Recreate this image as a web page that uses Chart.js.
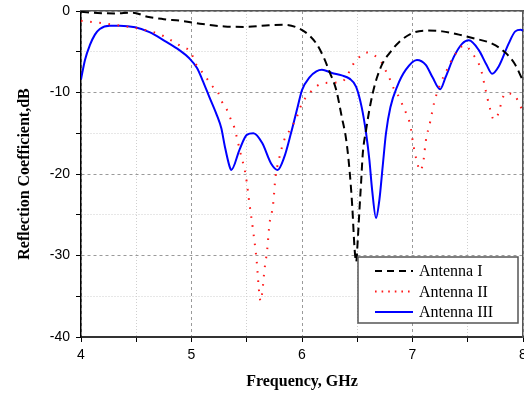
<!DOCTYPE html>
<html>
<head>
<meta charset="utf-8">
<script src="https://cdn.jsdelivr.net/npm/chart.js@4.4.0/dist/chart.umd.min.js"></script>
<style>
  html, body { margin: 0; padding: 0; background: #fff; }
  #wrap { width: 524px; height: 395px; }
</style>
</head>
<body>
<div id="wrap"><canvas id="s11Chart" width="524" height="395"></canvas></div>
<script>
// Reflection coefficient (dB) vs frequency (GHz)
const freqI = [4.0, 4.15, 4.3, 4.47, 4.6, 4.75, 4.9, 5.1, 5.3, 5.5, 5.7, 5.85, 5.95, 6.05, 6.13, 6.2, 6.25, 6.31, 6.36, 6.4, 6.43, 6.455, 6.475, 6.49, 6.505, 6.52, 6.535, 6.55, 6.58, 6.61, 6.64, 6.68, 6.73, 6.79, 6.88, 7.0, 7.13, 7.27, 7.42, 7.57, 7.72, 7.84, 7.93, 8.0];
const s11I  = [-0.1, -0.25, -0.3, -0.2, -0.7, -1.0, -1.2, -1.6, -1.9, -1.95, -1.75, -1.7, -2.0, -2.8, -4.0, -5.8, -7.5, -9.7, -13, -15.8, -19.5, -24, -29, -30.8, -28, -24.4, -21, -17.5, -14.6, -12.1, -10.1, -8.1, -6.4, -5.2, -3.8, -2.7, -2.4, -2.5, -2.9, -3.4, -4.0, -5.1, -6.6, -8.6];

const freqII = [4.0, 4.1, 4.2, 4.35, 4.5, 4.6, 4.7, 4.83, 4.9, 5.0, 5.03, 5.08, 5.13, 5.18, 5.24, 5.27, 5.32, 5.35, 5.39, 5.41, 5.45, 5.49, 5.525, 5.56, 5.59, 5.61, 5.625, 5.643, 5.66, 5.685, 5.706, 5.738, 5.76, 5.79, 5.84, 5.9, 5.95, 5.97, 6.0, 6.05, 6.1, 6.18, 6.27, 6.36, 6.41, 6.455, 6.5, 6.59, 6.65, 6.72, 6.76, 6.8, 6.83, 6.88, 6.915, 6.95, 6.98, 7.005, 7.04, 7.07, 7.1, 7.12, 7.16, 7.195, 7.25, 7.32, 7.36, 7.47, 7.54, 7.59, 7.62, 7.66, 7.7, 7.735, 7.755, 7.79, 7.81, 7.845, 7.91, 8.0];
const s11II  = [-1.2, -1.35, -1.5, -1.8, -2.1, -2.4, -2.8, -3.7, -4.3, -5.2, -6.3, -7.2, -8.1, -9.1, -10.0, -11, -12.1, -13.1, -14.4, -15.5, -17.8, -20.1, -23.7, -27.2, -30.7, -34.2, -35.6, -34.2, -31.8, -29.3, -26.1, -23.8, -20.4, -18.3, -15.8, -14.4, -13.1, -12.4, -11.3, -10.4, -9.6, -8.9, -8.8, -8.7, -7.9, -6.7, -5.9, -5.1, -5.4, -6.3, -7.4, -8.5, -9.5, -10.6, -11.7, -12.8, -14, -16.2, -18.5, -19.6, -18.3, -16, -13.6, -11.3, -9, -7, -5.9, -4.2, -5.2, -6.2, -7.2, -9.6, -11.9, -13.3, -13.2, -12, -10.9, -10.1, -10.2, -12.3];

const freqIII = [4.0, 4.036, 4.08, 4.126, 4.17, 4.26, 4.35, 4.49, 4.62, 4.76, 4.89, 4.98, 5.05, 5.1, 5.16, 5.23, 5.27, 5.3, 5.345, 5.36, 5.435, 5.5, 5.56, 5.64, 5.72, 5.78, 5.84, 5.9, 5.96, 6.0, 6.07, 6.13, 6.18, 6.27, 6.36, 6.43, 6.49, 6.54, 6.58, 6.61, 6.635, 6.67, 6.7, 6.73, 6.76, 6.8, 6.86, 6.94, 7.04, 7.12, 7.18, 7.25, 7.3, 7.375, 7.45, 7.51, 7.6, 7.67, 7.72, 7.78, 7.87, 7.93, 7.98, 8.0];
const s11III  = [-8.4, -6, -4.2, -2.9, -2.2, -1.8, -1.8, -2.0, -2.6, -3.7, -4.8, -5.8, -7, -8.5, -10.5, -12.8, -14.4, -16.5, -19.1, -19.5, -17, -15.2, -15, -16.2, -18.7, -19.5, -17.9, -15, -11.8, -9.7, -8.1, -7.4, -7.2, -7.6, -7.9, -8.3, -9.3, -11.8, -15, -18.3, -22, -25.4, -23.2, -19.1, -15, -11.8, -9.3, -7.2, -6.0, -6.6, -8.1, -9.6, -8.1, -5.6, -4, -3.6, -4.8, -6.6, -7.7, -6.8, -4, -2.5, -2.3, -2.4];

const seriesNames = ["Antenna I", "Antenna II", "Antenna III"];
const xTickLabels = [4, 5, 6, 7, 8];
const yTickLabels = [0, -10, -20, -30, -40];

const toPoints = (xs, ys) => xs.map((x, i) => ({ x: x, y: ys[i] }));

// draws the boxed legend in the lower right of the plot
const boxLegend = {
  id: "boxLegend",
  afterDatasetsDraw(chart) {
    const ctx = chart.ctx;
    const left = 358, top = 257, w = 160, h = 66;
    ctx.save();
    ctx.fillStyle = "#fff";
    ctx.fillRect(left, top, w, h);
    ctx.strokeStyle = "#555";
    ctx.lineWidth = 1.5;
    ctx.strokeRect(left, top, w, h);
    ctx.font = "16px 'Liberation Serif', 'Times New Roman', serif";
    ctx.textBaseline = "middle";
    chart.data.datasets.forEach((ds, i) => {
      const y = top + 14 + i * 20.5;
      ctx.beginPath();
      ctx.strokeStyle = ds.borderColor;
      ctx.lineWidth = ds.borderWidth;
      ctx.setLineDash(ds.legendDash || []);
      ctx.moveTo(left + 17, y);
      ctx.lineTo(left + 55, y);
      ctx.stroke();
      ctx.setLineDash([]);
      ctx.fillStyle = "#000";
      ctx.fillText(ds.label, left + 61, y + 1);
    });
    ctx.restore();
  }
};

const isMajorY = v => yTickLabels.includes(v);
const isMajorX = v => xTickLabels.includes(v);

// keep the plot box fixed: no extra room for overhanging tick labels
const noScalePadding = s => { s.paddingLeft = 0; s.paddingRight = 0; s.paddingTop = 0; s.paddingBottom = 0; };

new Chart(document.getElementById("s11Chart").getContext("2d"), {
  type: "line",
  data: {
    datasets: [
      {
        label: seriesNames[0],
        data: toPoints(freqI, s11I),
        borderColor: "#000000",
        borderWidth: 2,
        borderDash: [8, 5],
        legendDash: [7, 5],
        pointRadius: 0,
        cubicInterpolationMode: "monotone"
      },
      {
        label: seriesNames[1],
        data: toPoints(freqII, s11II),
        borderColor: "#ff1a1a",
        borderWidth: 2,
        borderDash: [1.6, 7.6],
        legendDash: [1.6, 5],
        pointRadius: 0,
        cubicInterpolationMode: "monotone"
      },
      {
        label: seriesNames[2],
        data: toPoints(freqIII, s11III),
        borderColor: "#0000ff",
        borderWidth: 2,
        pointRadius: 0,
        cubicInterpolationMode: "monotone"
      }
    ]
  },
  options: {
    responsive: false,
    animation: false,
    layout: { autoPadding: false, padding: { top: 11, right: 1, left: 0, bottom: 0 } },
    plugins: {
      legend: { display: false },
      tooltip: { enabled: false }
    },
    scales: {
      x: {
        type: "linear",
        min: 4,
        max: 8,
        afterFit: s => { s.height = 58; noScalePadding(s); },
        ticks: {
          stepSize: 0.5,
          color: "#000",
          padding: 5,
          maxRotation: 0,
          autoSkip: false,
          font: { family: "'Liberation Sans', Arial, sans-serif", size: 14 },
          callback: v => (isMajorX(v) ? v : "")
        },
        grid: {
          tickLength: 5,
          tickColor: "#000",
          color: c => (c.tick && isMajorX(c.tick.value) ? "#9a9a9a" : "#cfcfcf")
        },
        border: {
          color: "#333",
          width: 2,
          dash: c => (c.tick && isMajorX(c.tick.value) ? [3, 3] : [1, 2])
        },
        title: {
          display: true,
          text: "Frequency, GHz",
          color: "#000",
          padding: { top: 0, bottom: 4 },
          font: { family: "'Liberation Serif', 'Times New Roman', serif", size: 16, weight: "bold" }
        }
      },
      y: {
        min: -40,
        max: 0,
        afterFit: s => { s.width = 81; noScalePadding(s); },
        ticks: {
          stepSize: 5,
          color: "#000",
          padding: 6,
          font: { family: "'Liberation Sans', Arial, sans-serif", size: 14 },
          callback: v => (isMajorY(v) ? v : "")
        },
        grid: {
          tickLength: 5,
          tickColor: "#000",
          color: c => (c.tick && isMajorY(c.tick.value) ? "#9a9a9a" : "#cfcfcf")
        },
        border: {
          color: "#000",
          width: 1.5,
          dash: c => (c.tick && isMajorY(c.tick.value) ? [3, 3] : [1, 2])
        },
        title: {
          display: true,
          text: "Reflection Coefficient,dB",
          color: "#000",
          padding: { top: 15, bottom: 0 },
          font: { family: "'Liberation Serif', 'Times New Roman', serif", size: 16, weight: "bold" }
        }
      },
      xTop: {
        type: "linear",
        position: "top",
        min: 4,
        max: 8,
        afterFit: s => { s.height = 0; noScalePadding(s); },
        ticks: { display: false },
        grid: { drawOnChartArea: false, drawTicks: false },
        border: { color: "#555", width: 1.5 }
      },
      yRight: {
        position: "right",
        min: -40,
        max: 0,
        afterFit: s => { s.width = 0; noScalePadding(s); },
        ticks: { display: false },
        grid: { drawOnChartArea: false, drawTicks: false },
        border: { color: "#555", width: 1.5 }
      }
    }
  },
  plugins: [boxLegend]
});
</script>
</body>
</html>
